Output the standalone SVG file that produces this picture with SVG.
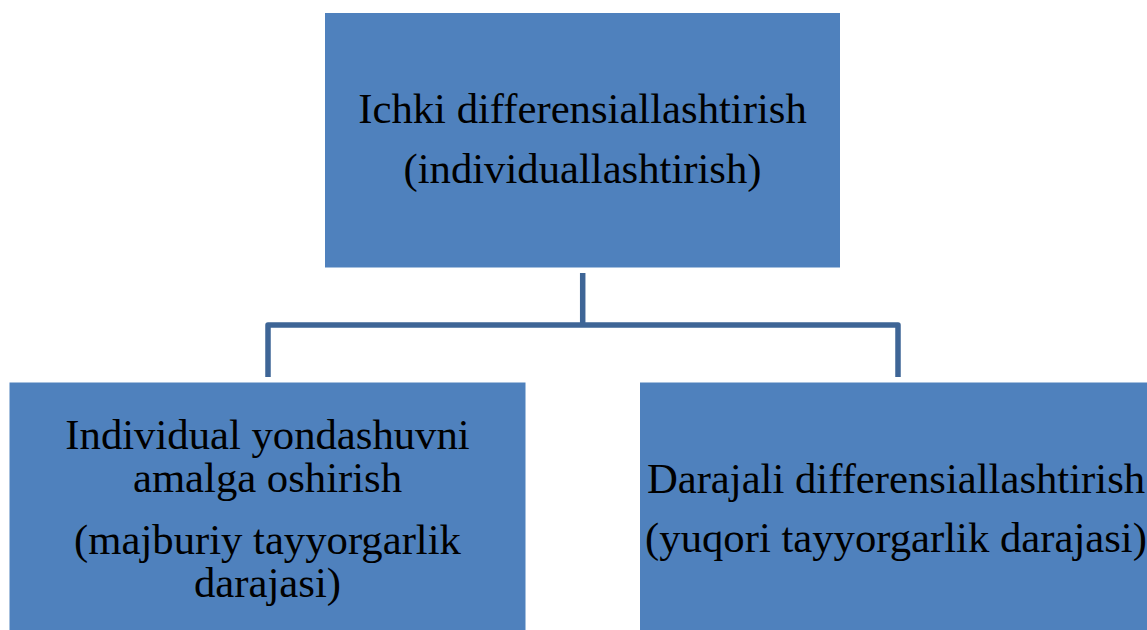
<svg xmlns="http://www.w3.org/2000/svg" width="1147" height="630" viewBox="0 0 1147 630">
<style>
.box{fill:#4F81BD;}
.t{font-family:"Liberation Serif","Times New Roman",serif;font-size:42.7px;fill:#000;text-anchor:middle;}
.c{fill:none;stroke:#3E6596;stroke-width:5.5;stroke-linejoin:round;stroke-linecap:butt;}
</style>
<rect width="1147" height="630" fill="#fff"/>
<g id="connectors">
<path class="c" d="M582.7 273 V325"/>
<path class="c" d="M268 377 V325 H898 V377"/>
</g>
<g id="node-top">
<rect class="box" x="325" y="13" width="515" height="254.5"/>
<text class="t" x="582.5" y="123">Ichki differensiallashtirish</text>
<text class="t" x="582.5" y="183">(individuallashtirish)</text>
</g>
<g id="node-left">
<rect class="box" x="9.5" y="382.5" width="516" height="260"/>
<text class="t" x="267.5" y="449">Individual yondashuvni</text>
<text class="t" x="267.5" y="492">amalga oshirish</text>
<text class="t" x="267.5" y="554">(majburiy tayyorgarlik</text>
<text class="t" x="267.5" y="597">darajasi)</text>
</g>
<g id="node-right">
<rect class="box" x="640" y="382.5" width="516" height="260"/>
<text class="t" x="896" y="493">Darajali differensiallashtirish</text>
<text class="t" x="896" y="552">(yuqori tayyorgarlik darajasi)</text>
</g>
</svg>
